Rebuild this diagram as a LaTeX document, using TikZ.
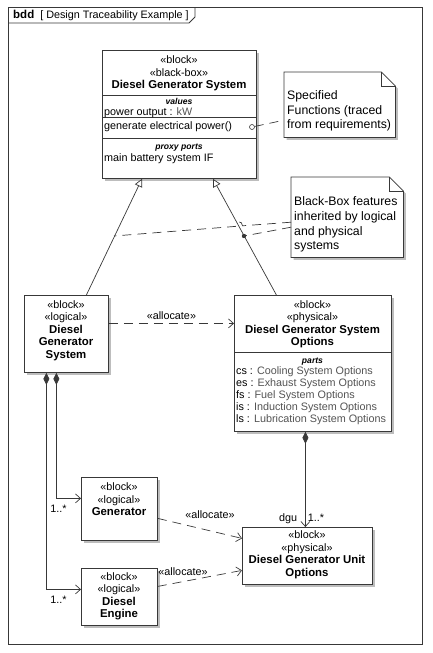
\documentclass[tikz,border=0pt]{standalone}
\usepackage{fontspec}
\setmainfont{Liberation Sans}
\usepackage{tikz}
\usetikzlibrary{arrows.meta,positioning,shadows,calc}
\definecolor{LineGray}{gray}{0.22}
\definecolor{TypeGray}{gray}{0.33}
\definecolor{ShadowGray}{gray}{0.74}
\newcommand{\typ}[1]{\textcolor{TypeGray}{#1}}
\newcommand{\blkname}[1]{{\fontsize{11.4}{13}\selectfont\bfseries #1}}
\tikzset{
  block/.style={
    draw=LineGray,
    line width=0.8pt,
    fill=white,
    anchor=north west,
    inner sep=0pt,
    drop shadow={shadow xshift=2.5pt, shadow yshift=-2.5pt, fill=ShadowGray, opacity=1}
  },
  blocktext/.style={
    align=center,
    inner sep=0pt,
    font=\fontsize{10.8}{12.5}\selectfont
  },
  comptext/.style={
    align=left,
    anchor=west,
    inner sep=0pt,
    font=\fontsize{10.8}{12}\selectfont
  },
  comptitle/.style={
    inner sep=0pt,
    font=\fontsize{8.6}{10}\selectfont\bfseries\itshape
  },
  compline/.style={
    draw=LineGray,
    line width=0.8pt
  },
  notespace/.style={
    anchor=north west,
    inner sep=0pt
  },
  notebox/.style={
    draw=LineGray,
    line width=0.8pt,
    fill=white,
    drop shadow={shadow xshift=2.5pt, shadow yshift=-2.5pt, fill=ShadowGray, opacity=1}
  },
  notetext/.style={
    align=left,
    anchor=west,
    inner sep=0pt,
    font=\fontsize{12.3}{14.8}\selectfont
  },
  notelink/.style={
    draw=LineGray,
    line width=0.7pt,
    dash pattern=on 9pt off 6pt
  },
  genarrow/.style={
    -{Triangle[open, length=8pt, width=8pt]},
    draw=LineGray,
    line width=0.7pt
  },
  allocarrow/.style={
    -{Straight Barb[length=5pt, width=9pt]},
    draw=LineGray,
    line width=0.7pt,
    dash pattern=on 9pt off 6pt
  },
  comparrow/.style={
    {Diamond[length=12pt, width=6pt, fill=LineGray]}-{Straight Barb[length=5pt, width=9pt]},
    draw=LineGray,
    line width=0.7pt
  },
  smalllabel/.style={
    inner sep=0pt,
    font=\fontsize{10.8}{12}\selectfont
  }
}

\begin{document}
\begin{tikzpicture}[x=1pt, y=-1pt]
\useasboundingbox (0,0) rectangle (433,653);

% frame
\draw[compline] (8,7) rectangle (422,644);
\draw[compline] (8,23) -- (189,23) -- (195,17) -- (195,7);
\node[anchor=west, inner sep=0pt, font=\fontsize{10.8}{12}\selectfont] (title) at (13,15)
  {{\fontsize{11.5}{12}\selectfont\bfseries bdd}\hspace{6pt}[ Design Traceability Example ]};

% black-box block
\node[block, minimum width=154pt, minimum height=128pt] (dgs) at (102,50) {};
\node[blocktext] (dgshead) at (179,73.5) {«block»\\«black-box»\\\blkname{Diesel Generator System}};
\draw[compline] ($(dgs.north west)+(0,-45pt)$) -- ++(154pt,0);
\draw[compline] ($(dgs.north west)+(0,-67pt)$) -- ++(154pt,0);
\draw[compline] ($(dgs.north west)+(0,-88pt)$) -- ++(154pt,0);
\node[comptitle] (dgsvalues) at (179,101.5) {values};
\node[comptext] (dgspower) at (104,112.5) {power output : \typ{kW}};
\node[comptext] (dgsop) at (104,127) {generate electrical power()};
\node[comptitle] (dgsports) at (179,148) {proxy ports};
\node[comptext] (dgsbat) at (104,158.5) {main battery system IF};
\node[draw=LineGray, line width=0.6pt, circle, minimum size=5pt, inner sep=0pt] (portpin) at (252,127) {};

% notes
\node[notespace, minimum width=111pt, minimum height=65pt] (specnote) at (284,72) {};
\path[notebox] (specnote.north west) -- ($(specnote.north east)+(-14pt,0)$)
  -- ($(specnote.north east)+(0,-14pt)$) -- (specnote.south east) -- (specnote.south west) -- cycle;
\draw[compline] ($(specnote.north east)+(-14pt,0)$) |- ($(specnote.north east)+(0,-14pt)$);
\node[notetext] (spectext) at (287,111) {Specified\\Functions (traced\\from requirements)};

\node[notespace, minimum width=112pt, minimum height=80pt] (bbnote) at (291,177) {};
\path[notebox] (bbnote.north west) -- ($(bbnote.north east)+(-14pt,0)$)
  -- ($(bbnote.north east)+(0,-14pt)$) -- (bbnote.south east) -- (bbnote.south west) -- cycle;
\draw[compline] ($(bbnote.north east)+(-14pt,0)$) |- ($(bbnote.north east)+(0,-14pt)$);
\node[notetext] (bbtext) at (294,224.5) {Black-Box features\\inherited by logical\\and physical\\systems};

% logical and physical systems
\node[block, minimum width=84pt, minimum height=77pt] (ldgs) at (24,295) {};
\node[blocktext] (ldgshead) at (66,330.5) {«block»\\«logical»\\\blkname{Diesel}\\\blkname{Generator}\\\blkname{System}};

\node[block, minimum width=157pt, minimum height=136pt] (pdgs) at (234,295) {};
\node[blocktext] (pdgshead) at (312.5,324.5) {«block»\\«physical»\\\blkname{Diesel Generator System}\\\blkname{Options}};
\draw[compline] ($(pdgs.north west)+(0,-57pt)$) -- ++(157pt,0);
\node[comptitle] (pdgsparts) at (312.5,361.5) {parts};
\node[comptext] (pdgslist) at (236,396) {cs : \typ{Cooling System Options}\\es : \typ{Exhaust System Options}\\fs : \typ{Fuel System Options}\\is : \typ{Induction System Options}\\ls : \typ{Lubrication System Options}};

% parts
\node[block, minimum width=76pt, minimum height=63pt] (gen) at (81,477) {};
\node[blocktext] (genhead) at (119,499.5) {«block»\\«logical»\\\blkname{Generator}};

\node[block, minimum width=76pt, minimum height=57pt] (eng) at (81,568) {};
\node[blocktext] (enghead) at (119,596.5) {«block»\\«logical»\\\blkname{Diesel}\\\blkname{Engine}};

\node[block, minimum width=130pt, minimum height=57pt] (dgu) at (242,527) {};
\node[blocktext] (dguhead) at (307,555) {«block»\\«physical»\\\blkname{Diesel Generator Unit}\\\blkname{Options}};

% generalizations
\draw[genarrow] ($(ldgs.north)+(20pt,0)$) -- ($(dgs.south west)+(40pt,0)$);
\draw[genarrow] ($(pdgs.north)+(-36.5pt,0)$) -- ($(dgs.south west)+(111pt,0)$);
\coordinate (leftpin) at (114,236);
\coordinate (rightpin) at (244,236);

% note links
\draw[notelink] (portpin) -- ($(specnote.west)+(0,-15.5pt)$);
\draw[notelink] ($(bbnote.west)+(0,-5pt)$) -- (242.5,225.8)
  .. controls (242.5,220.5) and (235.5,220.5) .. (235.5,226.4) -- (leftpin);
\draw[notelink] ($(bbnote.west)+(0,-10pt)$) -- (rightpin);
\fill[LineGray] (rightpin) circle (2.2pt);

% allocations
\draw[allocarrow] ($(ldgs.east)+(0,10.5pt)$) -- node[smalllabel, above=3pt] {«allocate»} ($(pdgs.west)+(0,40pt)$);
\draw[allocarrow] ($(gen.east)+(0,-9.5pt)$) -- node[smalllabel, pos=0.62, above=12pt] {«allocate»} ($(dgu.west)+(0,17.5pt)$);
\draw[allocarrow] ($(eng.east)+(0,10.5pt)$) -- node[smalllabel, pos=0.3, above=6pt] {«allocate»} ($(dgu.west)+(0,-14.5pt)$);

% compositions
\draw[comparrow] ($(pdgs.south)+(-7.5pt,0)$) -- ($(dgu.north)+(-2pt,0)$)
  node[smalllabel, pos=1, anchor=base east, xshift=-8pt, yshift=6pt] {dgu}
  node[smalllabel, pos=1, anchor=base west, xshift=2pt, yshift=6pt] {1..*};
\draw[comparrow] ($(ldgs.south)+(-10pt,0)$) |- ($(gen.west)+(0,10.5pt)$)
  node[smalllabel, pos=1, anchor=north east, xshift=-14pt, yshift=-6pt] {1..*};
\draw[comparrow] ($(ldgs.south)+(-20pt,0)$) |- ($(eng.west)+(0,7.5pt)$)
  node[smalllabel, pos=1, anchor=north east, xshift=-14pt, yshift=-6pt] {1..*};
\end{tikzpicture}
\end{document}
